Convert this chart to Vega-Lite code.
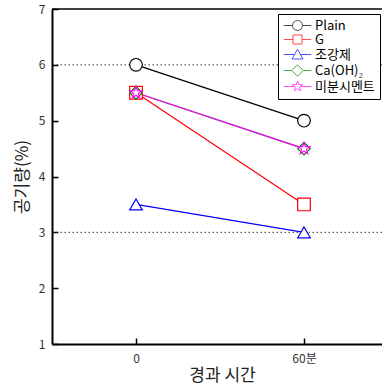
{
  "$schema": "https://vega.github.io/schema/vega-lite/v6.json",
  "width": 330,
  "height": 335,
  "autosize": {"type": "none"},
  "padding": {"left": 52, "top": 9, "right": 0, "bottom": 45},
  "config": {
    "font": "Noto Sans CJK KR",
    "view": {"stroke": null},
    "axis": {
      "grid": false,
      "domainColor": "black",
      "domainWidth": 2,
      "tickColor": "black",
      "tickWidth": 1.5,
      "tickSize": -6,
      "labelFontSize": 12,
      "labelColor": "#333",
      "labelFont": "Noto Sans CJK KR",
      "titleFont": "Noto Sans CJK KR",
      "titleFontSize": 17,
      "titleFontWeight": "normal",
      "titleColor": "#222"
    },
    "axisX": {"labelPadding": 15, "titlePadding": 3, "titleX": 170},
    "axisY": {"labelPadding": 13, "titlePadding": 7, "format": "d"}
  },
  "datasets": {
    "main": [
      {"series": "Plain", "t": 0, "v": 6},
      {"series": "Plain", "t": 60, "v": 5},
      {"series": "G", "t": 0, "v": 5.5},
      {"series": "G", "t": 60, "v": 3.5},
      {"series": "조강제", "t": 0, "v": 3.5},
      {"series": "조강제", "t": 60, "v": 3},
      {"series": "Ca(OH)₂", "t": 0, "v": 5.5},
      {"series": "Ca(OH)₂", "t": 60, "v": 4.5},
      {"series": "미분시멘트", "t": 0, "v": 5.5},
      {"series": "미분시멘트", "t": 60, "v": 4.5}
    ],
    "ref": [{"y": 3}, {"y": 6}],
    "frame": [{"y": 7}]
  },
  "layer": [
    {
      "data": {"name": "ref"},
      "mark": {"type": "rule", "strokeDash": [1.5, 2.5], "color": "#333", "strokeWidth": 1},
      "encoding": {
        "y": {"field": "y", "type": "quantitative", "scale": {"domain": [1, 7]}, "title": "공기량(%)", "axis": {"values": [1, 2, 3, 4, 5, 6, 7]}}
      }
    },
    {
      "data": {"name": "frame"},
      "mark": {"type": "rule", "color": "black", "strokeWidth": 1.5},
      "encoding": {
        "y": {"field": "y", "type": "quantitative", "title": "공기량(%)"}
      }
    },
    {
      "data": {"name": "main"},
      "mark": {"type": "point", "filled": true, "fill": "white", "size": 0, "strokeWidth": 1},
      "encoding": {
        "x": {"field": "t", "type": "quantitative", "title": "경과 시간"},
        "y": {"field": "v", "type": "quantitative", "title": "공기량(%)"},
        "stroke": {"field": "series", "type": "nominal"},
        "shape": {
          "field": "series", "type": "nominal",
          "scale": {"domain": ["Plain", "G", "조강제", "Ca(OH)₂", "미분시멘트"], "range": [
            "M-2.75,0L-1,0M1,0L2.75,0M-1,0A1,1,0,1,0,1,0A1,1,0,1,0,-1,0",
            "M-2.75,0L-0.9,0M0.9,0L2.75,0M-0.9,-0.9L0.9,-0.9L0.9,0.9L-0.9,0.9Z",
            "M-2.75,0L-0.6,0M0.6,0L2.75,0M0,-1.05L1.1,0.9L-1.1,0.9Z",
            "M-2.75,0L-1.15,0M1.15,0L2.75,0M0,-1.15L1.15,0L0,1.15L-1.15,0Z",
            "M-2.75,0L-0.6,0M0.6,0L2.75,0M0,-1.1L0.26,-0.36L1.05,-0.34L0.42,0.14L0.65,0.89L0,0.44L-0.65,0.89L-0.42,0.14L-1.05,-0.34L-0.26,-0.36Z"
          ]}
        }
      }
    },
    {
      "data": {"name": "main"},
      "mark": {"type": "line", "strokeWidth": 1.2},
      "encoding": {
        "x": {"field": "t", "type": "quantitative", "scale": {"domain": [-30, 87.86], "nice": false, "zero": false}, "title": "경과 시간", "axis": {"values": [0, 60], "labelExpr": "datum.value === 60 ? '60분' : datum.label"}},
        "y": {"field": "v", "type": "quantitative", "title": "공기량(%)"},
        "stroke": {
          "field": "series", "type": "nominal",
          "scale": {"domain": ["Plain", "G", "조강제", "Ca(OH)₂", "미분시멘트"], "range": ["black", "#ff0000", "#0000ff", "#008000", "#ff00ff"]},
          "legend": {
            "title": null,
            "orient": "none",
            "legendX": 226,
            "legendY": 5,
            "padding": 5,
            "strokeColor": "black",
            "fillColor": "white",
            "cornerRadius": 0,
            "symbolSize": 100,
            "symbolOffset": 8,
            "labelOffset": 11,
            "rowPadding": 0,
            "symbolStrokeWidth": 1,
            "labelFontSize": 13,
            "labelColor": "black",
            "labelFont": "Noto Sans CJK KR"
          }
        }
      }
    },
    {
      "data": {"name": "main"},
      "mark": {"type": "point", "filled": true, "fill": "white", "size": 160, "strokeWidth": 1.2, "opacity": 1},
      "encoding": {
        "x": {"field": "t", "type": "quantitative", "title": "경과 시간"},
        "y": {"field": "v", "type": "quantitative", "title": "공기량(%)"},
        "stroke": {"field": "series", "type": "nominal"},
        "shape": {
          "condition": [
            {"test": "datum.series === 'Plain'", "value": "circle"},
            {"test": "datum.series === 'G'", "value": "square"},
            {"test": "datum.series === '조강제'", "value": "triangle-up"},
            {"test": "datum.series === 'Ca(OH)₂'", "value": "diamond"}
          ],
          "value": "M0,-1L0.235,-0.324L0.951,-0.309L0.38,0.124L0.588,0.809L0,0.4L-0.588,0.809L-0.38,0.124L-0.951,-0.309L-0.235,-0.324Z"
        }
      }
    }
  ]
}
